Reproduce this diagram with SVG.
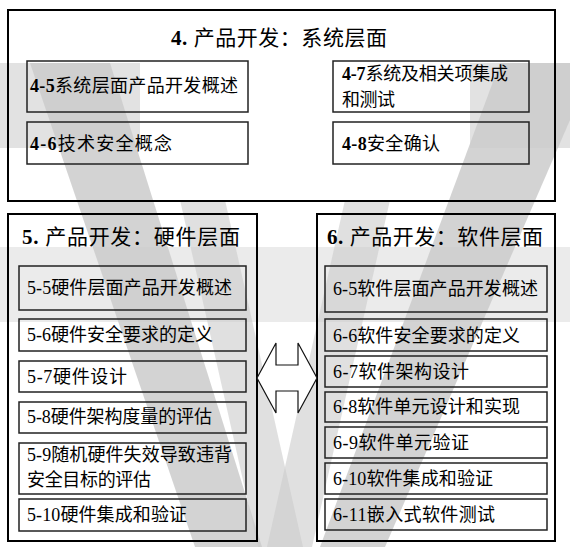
<svg xmlns="http://www.w3.org/2000/svg" width="570" height="547" viewBox="0 0 570 547">
<style>
.frame{fill:none;stroke:#000;stroke-width:2}
.box{fill:none;stroke:#222;stroke-width:1.5}
.t{font-family:"Liberation Serif","Noto Sans CJK SC",serif;font-size:18px;fill:#000;dominant-baseline:central}
.b{font-weight:bold}
.title{font-family:"Liberation Serif","Noto Sans CJK SC",serif;font-size:21px;fill:#000;dominant-baseline:central}
.wm1{fill:#e2e2e2}
.wm2{fill:#cbcbcb}
</style>
<g id="watermark">
<rect class="wm1" x="0" y="63" width="140" height="85"/>
<rect class="wm1" x="470" y="63" width="100" height="85"/>
<rect class="wm1" x="0" y="247" width="570" height="75" opacity="0.7"/>
<polygon class="wm2" points="30,63 110,63 262,547 195,547" opacity="0.85"/>
<polygon class="wm2" points="180,200 225,200 303,547 258,547" opacity="0.6"/>
<polygon class="wm2" points="345,200 390,200 312,547 267,547" opacity="0.6"/>
<polygon class="wm2" points="500,63 570,63 570,120 385,547 320,547" opacity="0.85"/>
</g>
<g id="system">
<rect class="frame" x="8" y="10" width="547" height="191"/>
<text class="title" x="171" y="38" textLength="216"><tspan class="b">4.</tspan> 产品开发：系统层面</text>
</g>
<g id="n4-5"><rect class="box" x="27" y="61" width="221" height="51"/><text class="t" x="30" y="86" textLength="208"><tspan class="b">4-5</tspan>系统层面产品开发概述</text></g>
<g id="n4-6"><rect class="box" x="27" y="122" width="221" height="42"/><text class="t" x="30" y="144" textLength="142"><tspan class="b">4-6</tspan>技术安全概念</text></g>
<g id="n4-7"><rect class="box" x="333" y="61" width="196" height="51"/><text class="t" x="342" y="74" textLength="166"><tspan class="b">4-7</tspan>系统及相关项集成</text><text class="t" x="342" y="100" textLength="53">和测试</text></g>
<g id="n4-8"><rect class="box" x="333" y="122" width="196" height="42"/><text class="t" x="342" y="144" textLength="98"><tspan class="b">4-8</tspan>安全确认</text></g>

<g id="hardware">
<rect class="frame" x="8" y="214" width="249" height="327"/>
<text class="title" x="22" y="237" textLength="218"><tspan class="b">5.</tspan> 产品开发：硬件层面</text>
</g>
<g id="n5-5"><rect class="box" x="19" y="266" width="227" height="44"/><text class="t" x="27" y="288" textLength="205">5-5硬件层面产品开发概述</text></g>
<g id="n5-6"><rect class="box" x="19" y="319" width="227" height="32"/><text class="t" x="27" y="335" textLength="186">5-6硬件安全要求的定义</text></g>
<g id="n5-7"><rect class="box" x="19" y="361" width="227" height="31"/><text class="t" x="27" y="377" textLength="100">5-7硬件设计</text></g>
<g id="n5-8"><rect class="box" x="19" y="402" width="227" height="31"/><text class="t" x="27" y="417" textLength="185">5-8硬件架构度量的评估</text></g>
<g id="n5-9"><rect class="box" x="19" y="443" width="227" height="51"/><text class="t" x="27" y="455" textLength="205">5-9随机硬件失效导致违背</text><text class="t" x="27" y="480" textLength="124">安全目标的评估</text></g>
<g id="n5-10"><rect class="box" x="19" y="499" width="227" height="32"/><text class="t" x="27" y="515" textLength="160">5-10硬件集成和验证</text></g>

<g id="software">
<rect class="frame" x="317" y="214" width="238" height="327"/>
<text class="title" x="327" y="237" textLength="216"><tspan class="b">6.</tspan> 产品开发：软件层面</text>
</g>
<g id="n6-5"><rect class="box" x="325" y="266" width="222" height="46"/><text class="t" x="333" y="289" textLength="205">6-5软件层面产品开发概述</text></g>
<g id="n6-6"><rect class="box" x="325" y="319" width="222" height="32"/><text class="t" x="333" y="336" textLength="187">6-6软件安全要求的定义</text></g>
<g id="n6-7"><rect class="box" x="325" y="356" width="222" height="31"/><text class="t" x="333" y="372" textLength="136">6-7软件架构设计</text></g>
<g id="n6-8"><rect class="box" x="325" y="392" width="222" height="30"/><text class="t" x="333" y="407" textLength="187">6-8软件单元设计和实现</text></g>
<g id="n6-9"><rect class="box" x="325" y="427" width="222" height="31"/><text class="t" x="333" y="443" textLength="136">6-9软件单元验证</text></g>
<g id="n6-10"><rect class="box" x="325" y="463" width="222" height="31"/><text class="t" x="333" y="479" textLength="160">6-10软件集成和验证</text></g>
<g id="n6-11"><rect class="box" x="325" y="499" width="222" height="31"/><text class="t" x="333" y="515" textLength="162">6-11嵌入式软件测试</text></g>

<g id="connectors">
<polygon points="257,378 276,343 276,365 298,365 298,343 317,378 298,413 298,391 276,391 276,413" fill="#fff" stroke="#111" stroke-width="1.2"/>
</g>
</svg>
